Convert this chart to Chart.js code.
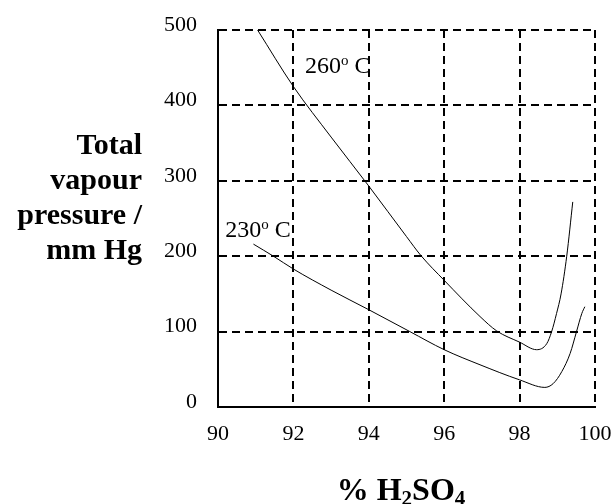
<!DOCTYPE html>
<html>
<head>
<meta charset="utf-8">
<script src="https://cdn.jsdelivr.net/npm/chart.js@4.4.1/dist/chart.umd.min.js"></script>
<style>
    body { margin: 0; background: #fff; }
    #wrap { width: 615px; height: 504px; }
</style>
</head>
<body>
<div id="wrap"><canvas id="vapourChart" width="615" height="504"></canvas></div>
<script>
// acid strength, % H2SO4
const xTicks = [90, 92, 94, 96, 98, 100];
const yTicks = [0, 100, 200, 300, 400, 500];

// 260 C curve
const hotX = [91.05, 92.0, 93.0, 94.0, 95.0, 95.38, 96.0, 96.95, 97.39, 98.0, 98.45, 98.72, 98.85, 98.98, 99.1, 99.25, 99.41];
const hotY = [500, 425, 358, 293, 226, 201, 168, 120, 101, 86, 76, 84, 100, 124, 150, 200, 272];

// 230 C curve
const coolX = [90.94, 91.47, 92.0, 93.0, 94.0, 95.09, 96.0, 96.95, 98.0, 98.67, 98.89, 99.12, 99.34, 99.51, 99.65, 99.73];
const coolY = [216, 200, 183, 155, 129, 100, 76, 56, 36, 26, 31, 47, 71, 100, 124, 133];

const serif = "'Liberation Serif', 'Times New Roman', serif";

function toPoints(xs, ys) {
    return xs.map((x, i) => ({ x: x, y: ys[i] }));
}

// text drawn on top: axis titles and curve names
const textPlugin = {
    id: "texts",
    afterDraw(chart) {
        let ctx = chart.ctx;
        let xs = chart.scales.x;
        let ys = chart.scales.y;
        ctx.save();
        ctx.fillStyle = "#000";
        ctx.textBaseline = "alphabetic";

        // y title, right aligned
        ctx.font = "bold 30px " + serif;
        ctx.textAlign = "right";
        ["Total", "vapour", "pressure /", "mm Hg"].forEach((line, i) => {
            ctx.fillText(line, 142, 154 + i * 35);
        });

        // x title with subscripts
        ctx.textAlign = "left";
        let parts = [["% H", false], ["2", true], ["SO", false], ["4", true]];
        let total = 0;
        parts.forEach(p => {
            ctx.font = "bold " + (p[1] ? 21 : 32) + "px " + serif;
            total += ctx.measureText(p[0]).width;
        });
        let px = 401 - total / 2;
        parts.forEach(p => {
            ctx.font = "bold " + (p[1] ? 21 : 32) + "px " + serif;
            ctx.fillText(p[0], px, p[1] ? 505 : 500);
            px += ctx.measureText(p[0]).width;
        });

        // curve labels: number, superscript o, C
        [["260", 92.31, 443], ["230", 90.19, 226]].forEach(l => {
            let lx = xs.getPixelForValue(l[1]);
            let ly = ys.getPixelForValue(l[2]);
            ctx.font = "24px " + serif;
            ctx.fillText(l[0], lx, ly);
            lx += ctx.measureText(l[0]).width;
            ctx.font = "15px " + serif;
            ctx.fillText("o", lx, ly - 8);
            lx += ctx.measureText("o").width;
            ctx.font = "24px " + serif;
            ctx.fillText(" C", lx, ly);
        });
        ctx.restore();
    }
};

let ctx = document.getElementById("vapourChart").getContext("2d");
let lineStyle = {
    borderColor: "#000",
    borderWidth: 1,
    pointRadius: 0,
    fill: false,
    cubicInterpolationMode: "monotone"
};

new Chart(ctx, {
    type: "line",
    data: {
        datasets: [
            Object.assign({ label: "260 C", data: toPoints(hotX, hotY) }, lineStyle),
            Object.assign({ label: "230 C", data: toPoints(coolX, coolY) }, lineStyle)
        ]
    },
    options: {
        responsive: false,
        animation: false,
        devicePixelRatio: 1,
        layout: { padding: { top: 30, right: 20, left: 0, bottom: 0 } },
        plugins: {
            legend: { display: false },
            tooltip: { enabled: false }
        },
        scales: {
            x: {
                type: "linear",
                min: 90,
                max: 100,
                afterBuildTicks: s => { s.ticks = xTicks.map(v => ({ value: v })); },
                afterFit: s => { s.height = 97; s.paddingLeft = 0; s.paddingRight = 0; },
                ticks: {
                    color: "#000",
                    font: { family: serif, size: 22 },
                    padding: 14,
                    maxRotation: 0,
                    callback: v => String(v)
                },
                grid: { color: "#000", lineWidth: 2, drawTicks: false },
                border: { display: true, color: "#000", width: 2, dash: [8, 5] }
            },
            y: {
                min: 0,
                max: 500,
                afterBuildTicks: s => { s.ticks = yTicks.map(v => ({ value: v })); },
                afterFit: s => { s.width = 218; s.paddingTop = 0; s.paddingBottom = 0; },
                ticks: {
                    color: "#000",
                    font: { family: serif, size: 22 },
                    padding: 21,
                    labelOffset: -5,
                    callback: v => String(v)
                },
                grid: { color: "#000", lineWidth: 2, drawTicks: false },
                border: { display: true, color: "#000", width: 2, dash: [8, 5] }
            }
        }
    },
    plugins: [textPlugin]
});
</script>
</body>
</html>
